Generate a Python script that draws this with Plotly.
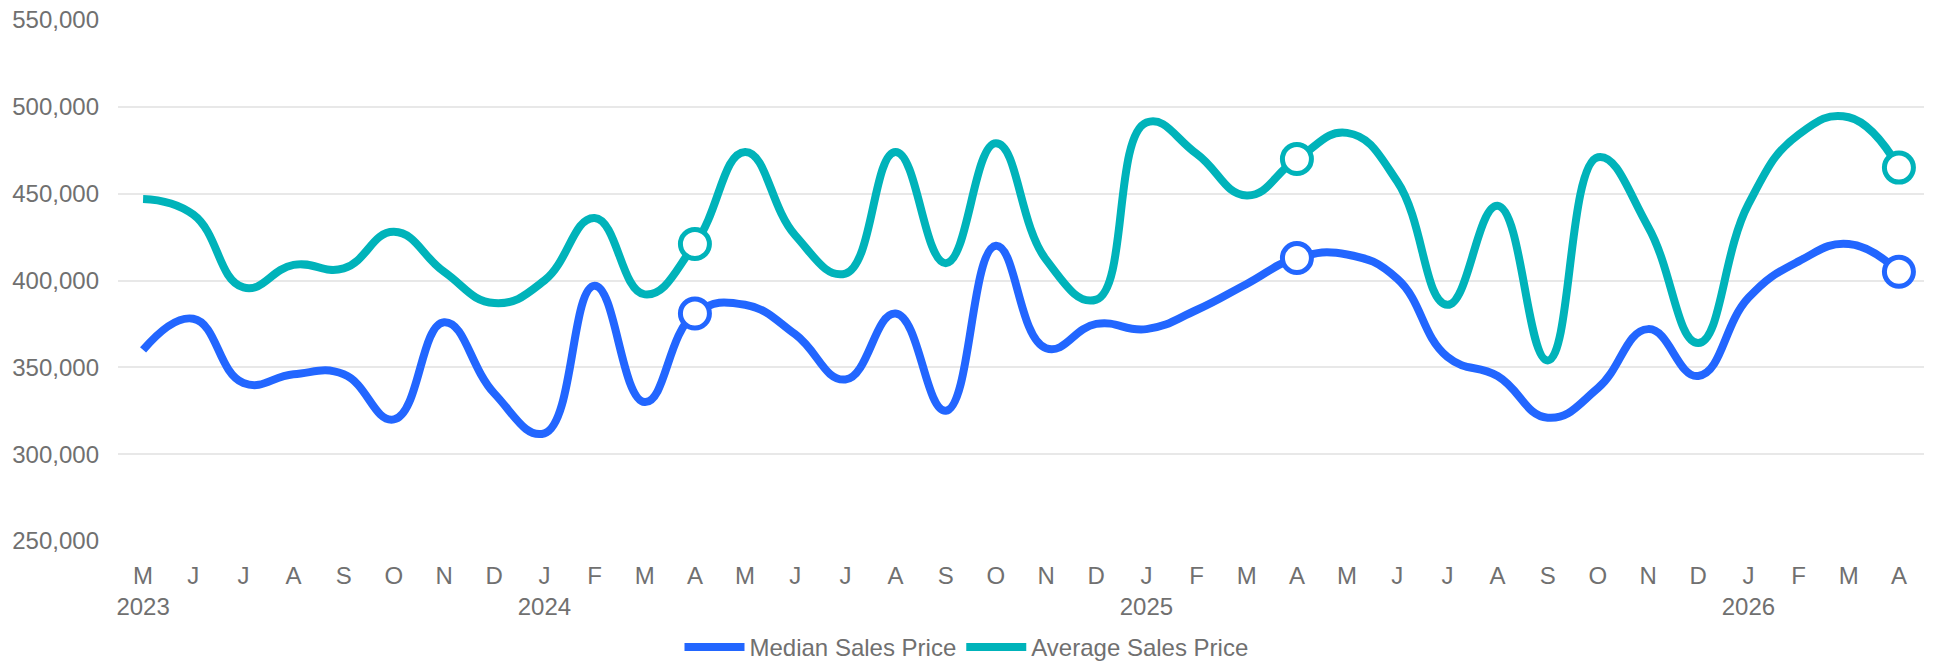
import plotly.graph_objects as go

periods = [
    "May 2023", "Jun 2023", "Jul 2023", "Aug 2023", "Sep 2023", "Oct 2023",
    "Nov 2023", "Dec 2023", "Jan 2024", "Feb 2024", "Mar 2024", "Apr 2024",
    "May 2024", "Jun 2024", "Jul 2024", "Aug 2024", "Sep 2024", "Oct 2024",
    "Nov 2024", "Dec 2024", "Jan 2025", "Feb 2025", "Mar 2025", "Apr 2025",
    "May 2025", "Jun 2025", "Jul 2025", "Aug 2025", "Sep 2025", "Oct 2025",
    "Nov 2025", "Dec 2025", "Jan 2026", "Feb 2026", "Mar 2026", "Apr 2026",
]

median_price = [
    360000, 378000, 341000, 346000, 346000, 320000,
    376000, 335000, 312000, 397000, 330000, 381000,
    386000, 369000, 343000, 381000, 325000, 420000,
    361000, 375000, 372000, 383000, 398000, 413000,
    415000, 401000, 356000, 345000, 321000, 338000,
    372000, 345000, 390000, 411000, 421000, 405000,
]

average_price = [
    447000, 438000, 396000, 409000, 407000, 428000,
    405000, 387000, 400000, 436000, 392000, 421000,
    474000, 426000, 404000, 474000, 410000, 479000,
    412000, 389000, 491000, 473000, 449000, 470000,
    485000, 457000, 386000, 443000, 354000, 471000,
    431000, 364000, 444000, 484000, 494000, 465000,
]

highlight_periods = ["Apr 2024", "Apr 2025", "Apr 2026"]

series_names = ["Median Sales Price", "Average Sales Price"]
series_colors = ["#2266FF", "#00B3BA"]

x = list(range(len(periods)))
ticktext = []
for i, p in enumerate(periods):
    mon, yr = p.split()
    t = mon[0]
    if i == 0 or mon == "Jan":
        t += "<br>" + yr
    ticktext.append(t)

hi_idx = [periods.index(p) for p in highlight_periods]

fig = go.Figure()
for name, vals, col in zip(series_names, [median_price, average_price], series_colors):
    fig.add_trace(go.Scatter(
        x=x, y=vals, name=name, mode="lines",
        line=dict(color=col, width=8, shape="spline", smoothing=1.3),
    ))
for name, vals, col in zip(series_names, [median_price, average_price], series_colors):
    fig.add_trace(go.Scatter(
        x=[x[i] for i in hi_idx], y=[vals[i] for i in hi_idx],
        mode="markers", showlegend=False, name=name,
        marker=dict(size=29, color="white", line=dict(color=col, width=5)),
    ))

font_family = "Liberation Sans, Arial, Helvetica, sans-serif"
label_color = "#707070"
fig.update_layout(
    width=1933, height=661,
    margin=dict(l=118, r=9, t=20, b=120, autoexpand=False),
    paper_bgcolor="white", plot_bgcolor="white",
    font=dict(family=font_family, size=24, color=label_color),
    showlegend=True,
    legend=dict(
        orientation="h", xref="container", yref="container",
        x=0.5, xanchor="center", y=0.0205, yanchor="middle",
        font=dict(size=24, color=label_color),
        itemwidth=60, tracegroupgap=0,
    ),
    xaxis=dict(
        range=[-0.5, len(periods) - 0.5],
        tickmode="array", tickvals=x, ticktext=ticktext,
        showgrid=False, zeroline=False, showline=False, ticks="",
        tickfont=dict(size=24, color=label_color),
        ticklabelstandoff=18, automargin=False, ticklabeloverflow="allow",
    ),
    yaxis=dict(
        range=[250000, 550000], dtick=50000, tickformat=",",
        showgrid=True, gridcolor="#e8e8e8", gridwidth=2,
        zeroline=False, showline=False, ticks="",
        tickfont=dict(size=24, color=label_color),
        ticklabelstandoff=18, automargin=False, ticklabeloverflow="allow",
    ),
)

fig.write_html(
    "out.html",
    config={"displayModeBar": False},
    post_script="document.body.style.margin='0';document.body.style.overflow='hidden';",
)
